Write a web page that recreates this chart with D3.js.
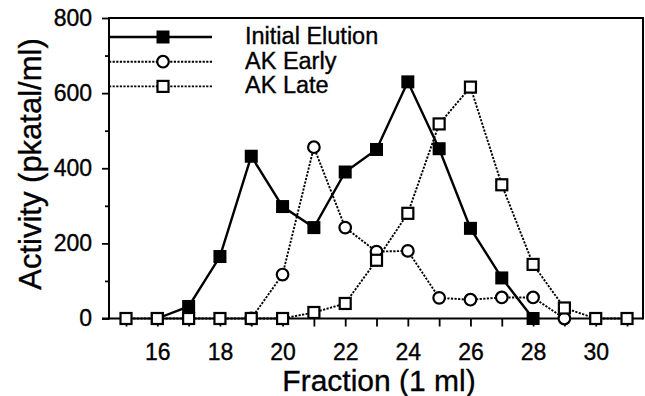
<!DOCTYPE html>
<html>
<head>
<meta charset="utf-8">
<script src="https://cdn.jsdelivr.net/npm/d3@7"></script>
<style>
  body { margin: 0; background: #fff; }
  text { font-family: "Liberation Sans", Arial, Helvetica, sans-serif; fill: #000; stroke: #000; stroke-width: 0.35px; }
</style>
</head>
<body>
<div id="canvas"></div>
<script>
// data
const initialFractions = [16, 17, 18, 19, 20, 21, 22, 23, 24, 25, 26, 27, 28];
const initialValues = [0, 32, 165, 432, 298, 242, 390, 450, 630, 452, 240, 108, 0];

const earlyFractions = [19, 20, 21, 22, 23, 24, 25, 26, 27, 28, 29];
const earlyValues = [0, 117, 456, 242, 178, 180, 55, 50, 56, 56, 0];

const lateFractions = [15, 16, 17, 18, 19, 20, 21, 22, 23, 24, 25, 26, 27, 28, 29, 30, 31];
const lateValues = [0, 0, 0, 0, 0, 0, 16, 40, 155, 280, 518, 616, 356, 144, 28, 0, 0];

const seriesNames = ["Initial Elution", "AK Early", "AK Late"];
const xTicks = d3.range(15, 32);
const yTicks = d3.range(0, 801, 100);

const margin = { Top: 18, Right: 2, Bottom: 77.5, Left: 109 };
const W = 645, H = 396;
const width = W - margin.Left - margin.Right;
const height = H - margin.Top - margin.Bottom;

const svg = d3.select("#canvas").append("svg")
    .attr("width", W)
    .attr("height", H);

const g = svg.append("g")
    .attr("transform", `translate(${margin.Left}, ${margin.Top})`);

const x = d3.scaleLinear()
    .domain([14.457, 31.51])
    .range([0, width]);

const y = d3.scaleLinear()
    .domain([0, 800])
    .range([height, 0]);

// x axis
const xAxisGroup = g.append("g")
    .attr("transform", `translate(0, ${height})`)
    .call(d3.axisBottom(x)
        .tickValues(xTicks)
        .tickSize(8)
        .tickSizeOuter(0)
        .tickPadding(17)
        .tickFormat(d => d % 2 === 0 ? d : ""));
xAxisGroup.select(".domain").remove();
xAxisGroup.append("line")
    .attr("x1", -7).attr("x2", width)
    .attr("stroke", "#000").attr("stroke-width", 2);

// y axis, minor then major ticks
const yMinor = g.append("g")
    .call(d3.axisLeft(y).tickValues(yTicks.filter(d => d % 200 !== 0)).tickSize(4).tickFormat(""));
yMinor.select(".domain").remove();

const yAxisGroup = g.append("g")
    .call(d3.axisLeft(y)
        .tickValues(yTicks.filter(d => d % 200 === 0))
        .tickSize(7)
        .tickSizeOuter(0)
        .tickPadding(10));
yAxisGroup.select(".domain").remove();

g.selectAll(".tick line").attr("stroke", "#000").attr("stroke-width", 1.8);
g.selectAll(".tick text")
    .style("font-size", "23px")
    .attr("font-family", null);

// frame: left axis, top and right border
g.append("line")
    .attr("x1", 0).attr("x2", 0).attr("y1", -1).attr("y2", height + 1)
    .attr("stroke", "#000").attr("stroke-width", 2);
g.append("rect")
    .attr("x", -1).attr("y", -1)
    .attr("width", width + 2).attr("height", 2)
    .attr("fill", "#000");
g.append("rect")
    .attr("x", width - 1).attr("y", -1)
    .attr("width", 2).attr("height", height + 2)
    .attr("fill", "#000");

// axis titles
svg.append("text")
    .attr("x", 379)
    .attr("y", 391)
    .attr("text-anchor", "middle")
    .style("font-size", "30px")
    .text("Fraction (1 ml)");

svg.append("text")
    .attr("transform", "translate(41, 164) rotate(-90)")
    .attr("text-anchor", "middle")
    .style("font-size", "31px")
    .text("Activity (pkatal/ml)");

const line = d3.line()
    .x(d => x(d[0]))
    .y(d => y(d[1]));

const dotted = "2.2,1.4";

const series = [
    { name: seriesNames[0], pts: d3.zip(initialFractions, initialValues), dash: null, width: 2.4, marker: "fsquare" },
    { name: seriesNames[1], pts: d3.zip(earlyFractions, earlyValues), dash: dotted, width: 1.9, marker: "circle" },
    { name: seriesNames[2], pts: d3.zip(lateFractions, lateValues), dash: dotted, width: 1.9, marker: "osquare" }
];

function drawMarker(sel, type) {
    if (type === "fsquare") {
        sel.append("rect")
            .attr("x", -6.5).attr("y", -6.5)
            .attr("width", 13).attr("height", 13)
            .attr("fill", "#000");
    } else if (type === "osquare") {
        sel.append("rect")
            .attr("x", -5.5).attr("y", -5.5)
            .attr("width", 11).attr("height", 11)
            .attr("fill", "#fff")
            .attr("stroke", "#000").attr("stroke-width", 2.2);
    } else {
        sel.append("circle")
            .attr("r", 5.8)
            .attr("fill", "#fff")
            .attr("stroke", "#000").attr("stroke-width", 2.2);
    }
}

series.forEach(s => {
    g.append("path")
        .datum(s.pts)
        .attr("d", line)
        .attr("fill", "none")
        .attr("stroke", "#000")
        .attr("stroke-width", s.width)
        .attr("stroke-dasharray", s.dash);

    g.selectAll(null)
        .data(s.pts)
        .enter().append("g")
        .attr("transform", d => `translate(${x(d[0])}, ${y(d[1])})`)
        .each(function () { drawMarker(d3.select(this), s.marker); });
});

// legend
const legend = g.append("g");
series.forEach((s, i) => {
    const row = legend.append("g")
        .attr("transform", `translate(0, ${19 + i * 24.7})`);
    row.append("line")
        .attr("x1", 0).attr("x2", 103)
        .attr("stroke", "#000")
        .attr("stroke-width", s.width)
        .attr("stroke-dasharray", s.dash);
    const m = row.append("g").attr("transform", "translate(54, 0)");
    drawMarker(m, s.marker);
    row.append("text")
        .attr("x", 136)
        .attr("y", 7)
        .style("font-size", "23.5px")
        .text(s.name);
});
</script>
</body>
</html>
